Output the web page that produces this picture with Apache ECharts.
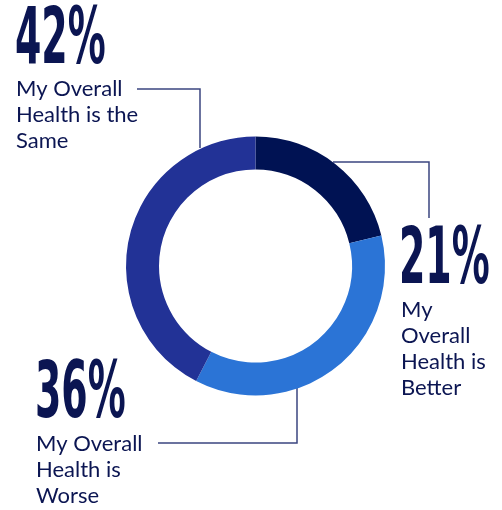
<!DOCTYPE html>
<html>
<head>
<meta charset="utf-8">
<script src="https://cdn.jsdelivr.net/npm/echarts@6/dist/echarts.min.js"></script>
<style>
  html, body { margin: 0; padding: 0; background: #fff; }
  #main { width: 502px; height: 510px; }
</style>
</head>
<body>
<div id="main"></div>
<script>
// 数据
var names = ['Better', 'Worse', 'Same'];
var values = [21, 36, 42];
var captions = [
  'My\nOverall\nHealth is\nBetter',
  'My Overall\nHealth is\nWorse',
  'My Overall\nHealth is the\nSame'
];
var colors = ['#001253', '#2b74d6', '#223296'];

var navy = '#0b1552';
var lineColor = '#3b4680';

// 标注位置 (百分比 + 说明文字)
var spots = [
  { px: 399, py: 263, tx: 401, ty: 297 },
  { px: 35, py: 397, tx: 36, ty: 431 },
  { px: 15, py: 43, tx: 16, ty: 76 }
];

var graphics = [];
for (var i = 0; i < names.length; i++) {
  graphics.push({
    type: 'text',
    x: spots[i].px,
    y: spots[i].py,
    scaleX: 0.54,
    style: {
      text: values[i] + '%',
      font: 'bold 78px "DejaVu Sans Condensed", "DejaVu Sans"',
      fill: navy,
      align: 'left',
      verticalAlign: 'middle'
    }
  });
  graphics.push({
    type: 'text',
    x: spots[i].tx,
    y: spots[i].ty,
    style: {
      text: captions[i],
      font: '22px Lato',
      lineHeight: 26,
      fill: navy,
      align: 'left',
      verticalAlign: 'top'
    }
  });
}

// 引线
var leaders = [
  [[333, 162], [429, 162], [429, 218]],
  [[158, 443], [297, 443], [297, 388]],
  [[137, 89], [200, 89], [200, 148]]
];
leaders.forEach(function (pts) {
  graphics.push({
    type: 'polyline',
    shape: { points: pts },
    style: { stroke: lineColor, lineWidth: 1.5, fill: null }
  });
});

var myChart = echarts.init(document.getElementById('main'));
var option = {
  animation: false,
  series: [{
    type: 'pie',
    center: [255.5, 266],
    radius: [96.5, 129.5],
    startAngle: 90,
    clockwise: true,
    silent: true,
    label: { show: false },
    labelLine: { show: false },
    data: names.map(function (n, i) {
      return { name: n, value: values[i], itemStyle: { color: colors[i] } };
    })
  }],
  graphic: graphics
};
myChart.setOption(option);
</script>
</body>
</html>
